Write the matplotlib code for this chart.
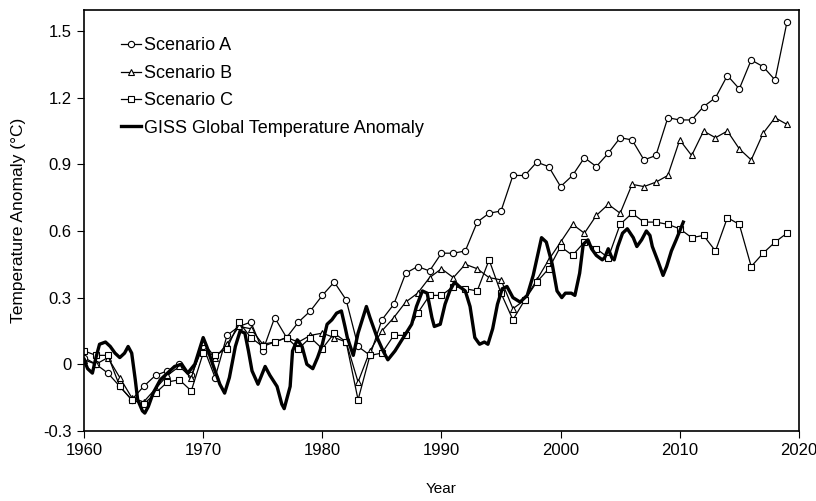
import matplotlib
matplotlib.use("Agg")
import matplotlib.pyplot as plt

plt.rcParams['font.family'] = ['Liberation Sans', 'DejaVu Sans']

# scenario years (annual)
years = list(range(1960, 2020))

scenario_a = [0.03, 0.00, -0.04, -0.10, -0.16, -0.10, -0.05, -0.03, 0.00, -0.05,
              0.08, -0.06, 0.13, 0.17, 0.19, 0.06, 0.21, 0.12, 0.19, 0.24,
              0.31, 0.37, 0.29, 0.08, 0.04, 0.20, 0.27, 0.41, 0.44, 0.42,
              0.50, 0.50, 0.51, 0.64, 0.68, 0.69, 0.85, 0.85, 0.91, 0.89,
              0.80, 0.85, 0.93, 0.89, 0.95, 1.02, 1.01, 0.92, 0.94, 1.11,
              1.10, 1.10, 1.16, 1.20, 1.30, 1.24, 1.37, 1.34, 1.28, 1.54]

scenario_b = [0.02, 0.00, 0.03, -0.06, -0.15, -0.17, -0.11, -0.05, -0.01, -0.06,
              0.10, 0.03, 0.09, 0.17, 0.16, 0.09, 0.10, 0.12, 0.10, 0.13,
              0.14, 0.12, 0.10, -0.08, 0.06, 0.15, 0.21, 0.28, 0.32, 0.39,
              0.43, 0.39, 0.45, 0.43, 0.39, 0.38, 0.25, 0.29, 0.38, 0.47,
              0.55, 0.63, 0.59, 0.67, 0.72, 0.68, 0.81, 0.80, 0.82, 0.85,
              1.01, 0.94, 1.05, 1.02, 1.05, 0.97, 0.92, 1.04, 1.11, 1.08]

scenario_c = [0.06, 0.04, 0.04, -0.10, -0.16, -0.18, -0.13, -0.08, -0.07, -0.12,
              0.05, 0.04, 0.07, 0.19, 0.12, 0.08, 0.10, 0.12, 0.07, 0.12,
              0.07, 0.14, 0.10, -0.16, 0.04, 0.05, 0.13, 0.13, 0.23, 0.31,
              0.31, 0.35, 0.34, 0.33, 0.47, 0.32, 0.20, 0.29, 0.37, 0.43,
              0.53, 0.49, 0.55, 0.52, 0.48, 0.63, 0.68, 0.64, 0.64, 0.63,
              0.61, 0.57, 0.58, 0.51, 0.66, 0.63, 0.44, 0.50, 0.55, 0.59]

giss_years = [1960.0, 1960.3, 1960.7, 1961.0, 1961.3, 1961.8, 1962.2, 1962.6, 1963.0, 1963.4,
              1963.7, 1964.0, 1964.3, 1964.5, 1964.9, 1965.1, 1965.4, 1965.8, 1966.4, 1967.0,
              1967.6, 1968.2, 1968.7, 1969.3, 1970.0, 1970.3, 1970.8, 1971.4, 1971.8, 1972.2,
              1972.7, 1973.1, 1973.5, 1973.8, 1974.1, 1974.6, 1975.2, 1975.6, 1976.2, 1976.6,
              1976.8, 1977.3, 1977.5, 1977.9, 1978.3, 1978.7, 1979.2, 1979.6, 1980.0, 1980.4,
              1980.8, 1981.2, 1981.6, 1981.9, 1982.1, 1982.6, 1983.0, 1983.7, 1984.0, 1984.6,
              1985.1, 1985.5, 1986.1, 1986.8, 1987.5, 1987.9, 1988.4, 1988.8, 1989.2, 1989.4,
              1989.9, 1990.3, 1990.7, 1991.1, 1991.5, 1992.0, 1992.4, 1992.8, 1993.2, 1993.6,
              1993.9, 1994.3, 1994.7, 1995.1, 1995.5, 1996.0, 1996.6, 1997.2, 1997.7, 1998.4,
              1998.8, 1999.3, 1999.7, 2000.1, 2000.4, 2000.6, 2000.9, 2001.2, 2001.6, 2001.9,
              2002.3, 2002.6, 2003.0, 2003.5, 2003.7, 2004.0, 2004.3, 2004.5, 2004.8, 2005.2,
              2005.6, 2006.1, 2006.4, 2006.8, 2007.2, 2007.5, 2007.7, 2008.2, 2008.6, 2008.9,
              2009.3, 2009.7, 2010.0, 2010.3]
giss_vals = [0.02, -0.02, -0.04, 0.03, 0.09, 0.10, 0.08, 0.05, 0.03, 0.05,
             0.08, 0.05, -0.07, -0.16, -0.21, -0.22, -0.19, -0.13, -0.07, -0.04,
             -0.01, 0.00, -0.04, 0.00, 0.12, 0.08, 0.00, -0.09, -0.13, -0.06,
             0.08, 0.15, 0.14, 0.06, -0.03, -0.09, -0.01, -0.05, -0.10, -0.18,
             -0.20, -0.10, 0.06, 0.11, 0.08, 0.00, -0.02, 0.03, 0.09, 0.18,
             0.20, 0.23, 0.24, 0.17, 0.12, 0.04, 0.14, 0.26, 0.21, 0.12,
             0.06, 0.02, 0.06, 0.12, 0.18, 0.26, 0.33, 0.32, 0.21, 0.17,
             0.18, 0.27, 0.33, 0.37, 0.35, 0.33, 0.26, 0.12, 0.09, 0.10,
             0.09, 0.16, 0.27, 0.34, 0.35, 0.30, 0.28, 0.31, 0.40, 0.57,
             0.55, 0.45, 0.33, 0.30, 0.32, 0.32, 0.32, 0.31, 0.41, 0.54,
             0.56, 0.52, 0.49, 0.47, 0.48, 0.52, 0.48, 0.47, 0.53, 0.59,
             0.61, 0.57, 0.53, 0.56, 0.60, 0.58, 0.53, 0.46, 0.40, 0.44,
             0.51, 0.56, 0.60, 0.64]

fig = plt.figure(figsize=(8.16, 5.01), dpi=100)
ax = fig.add_axes([0.103, 0.14, 0.876, 0.84])

ax.plot(years, scenario_a, color="black", lw=0.9, marker="o", ms=4.5,
        mfc="white", mec="black", mew=0.8, label="Scenario A")
ax.plot(years, scenario_b, color="black", lw=0.9, marker="^", ms=4.5,
        mfc="white", mec="black", mew=0.8, label="Scenario B")
ax.plot(years, scenario_c, color="black", lw=0.9, marker="s", ms=4.5,
        mfc="white", mec="black", mew=0.8, label="Scenario C")
ax.plot(giss_years, giss_vals, color="black", lw=2.4,
        label="GISS Global Temperature Anomaly")

ax.set_xlim(1960, 2020)
ax.set_ylim(-0.3, 1.595)
ax.set_xticks(range(1960, 2021, 10))
ax.set_yticks([-0.3, 0, 0.3, 0.6, 0.9, 1.2, 1.5])
ax.set_yticklabels(["-0.3", "0", "0.3", "0.6", "0.9", "1.2", "1.5"])
ax.tick_params(axis="both", direction="out", length=5, labelsize=12, color="black")
ax.tick_params(axis="x", pad=4)
ax.tick_params(axis="y", pad=4)

for s in ax.spines.values():
    s.set_linewidth(1.2)

ax.set_xlabel("Year", fontsize=11, labelpad=17)
ax.set_ylabel("Temperature Anomaly (°C)", fontsize=12.5, labelpad=12)

leg = ax.legend(loc="upper left", bbox_to_anchor=(0.052, 0.935), frameon=False,
                fontsize=13, handlelength=1.1, handletextpad=0.15,
                labelspacing=0.58, borderaxespad=0, borderpad=0)

fig.savefig("out.png", dpi=100)
